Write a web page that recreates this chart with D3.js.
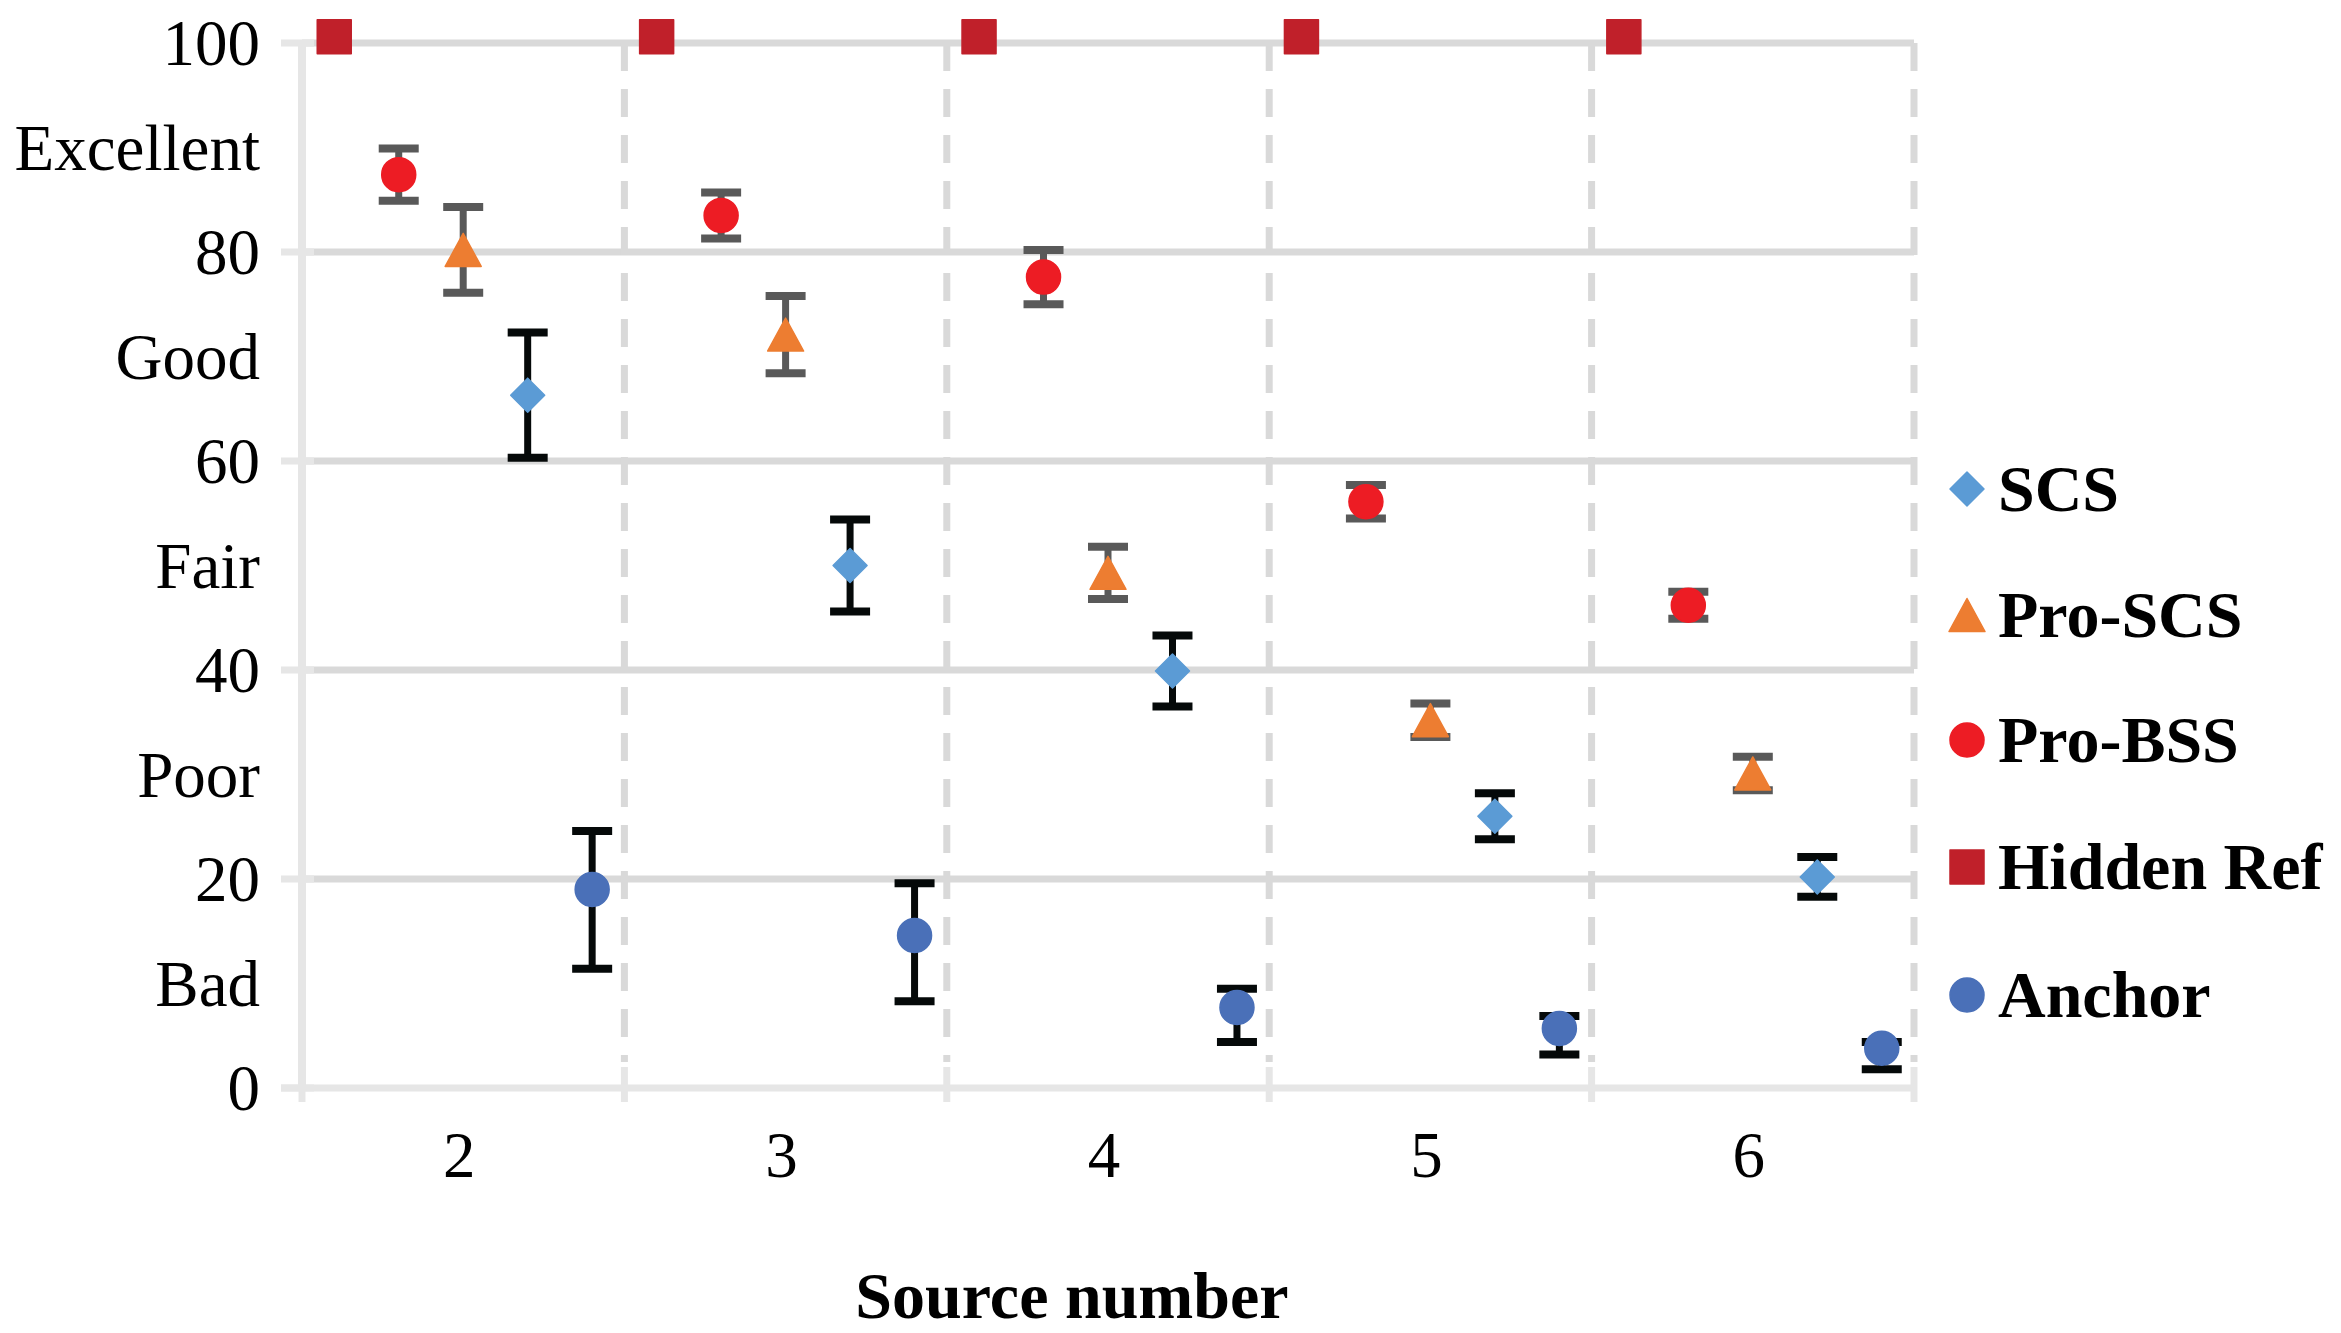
<!DOCTYPE html>
<html>
<head>
<meta charset="utf-8">
<script src="https://cdn.jsdelivr.net/npm/d3@7"></script>
<style>
  body { margin: 0; background: #fff; }
  svg { display: block; }
</style>
</head>
<body>
<svg id="chart" width="2341" height="1333"></svg>
<script>
// values
const sources = [2, 3, 4, 5, 6];
const boundaries = [1.5, 2.5, 3.5, 4.5, 5.5, 6.5];

const yTickValues = [0, 10, 20, 30, 40, 50, 60, 70, 80, 90, 100];
const yTickLabels = ['0', 'Bad', '20', 'Poor', '40', 'Fair', '60', 'Good', '80', 'Excellent', '100'];

const hiddenRef = [100.6, 100.6, 100.6, 100.6, 100.6];

const proBSS = [87.4, 83.5, 77.6, 56.1, 46.2];
const proBSSErr = [2.5, 2.2, 2.6, 1.6, 1.3];

const proSCS = [80.2, 72.1, 49.3, 35.2, 30.1];
const proSCSErr = [4.1, 3.7, 2.5, 1.6, 1.6];

const scs = [66.3, 50.0, 39.9, 26.0, 20.2];
const scsErr = [6.0, 4.4, 3.4, 2.2, 1.9];

const anchor = [19.0, 14.6, 7.7, 5.7, 3.8];
const anchorErrUp = [5.6, 5.0, 1.8, 1.2, 0.6];
const anchorErrDown = [7.6, 6.3, 3.3, 2.5, 2.0];

const series = [
  { name: 'SCS', shape: 'diamond', color: '#5b9bd5', offset: 0.2, values: scs, up: scsErr, down: scsErr, errColor: '#050909' },
  { name: 'Pro-SCS', shape: 'triangle', color: '#ed7d31', offset: 0, values: proSCS, up: proSCSErr, down: proSCSErr, errColor: '#595959' },
  { name: 'Pro-BSS', shape: 'circle', color: '#ed1c24', offset: -0.2, values: proBSS, up: proBSSErr, down: proBSSErr, errColor: '#595959' },
  { name: 'Hidden Ref', shape: 'square', color: '#c0202a', offset: -0.4, values: hiddenRef, up: null, down: null },
  { name: 'Anchor', shape: 'circle', color: '#4a70b8', offset: 0.4, values: anchor, up: anchorErrUp, down: anchorErrDown, errColor: '#050909' }
];

const svg = d3.select('#chart');
const x = d3.scaleLinear().domain([1.5, 6.5]).range([302, 1914]);
const y = d3.scaleLinear().domain([0, 100]).range([1088, 43]);

const serif = '"Liberation Serif", "Times New Roman", serif';

// horizontal gridlines
svg.append('g')
  .selectAll('line')
  .data([20, 40, 60, 80, 100])
  .enter()
  .append('line')
  .attr('x1', x(1.5))
  .attr('x2', x(6.5))
  .attr('y1', (d) => y(d))
  .attr('y2', (d) => y(d))
  .attr('stroke', '#d9d9d9')
  .attr('stroke-width', 7);

// dashed source separators
svg.append('g')
  .selectAll('line')
  .data(boundaries.slice(1))
  .enter()
  .append('line')
  .attr('x1', (d) => x(d))
  .attr('x2', (d) => x(d))
  .attr('y1', y(100))
  .attr('y2', y(0) - 26)
  .attr('stroke', '#d9d9d9')
  .attr('stroke-width', 7)
  .attr('stroke-dasharray', '28,18');

// y ticks
svg.append('g')
  .selectAll('line')
  .data([0, 20, 40, 60, 80, 100])
  .enter()
  .append('line')
  .attr('x1', x(1.5) - 21)
  .attr('x2', x(1.5) + 12)
  .attr('y1', (d) => y(d))
  .attr('y2', (d) => y(d))
  .attr('stroke', '#e6e6e6')
  .attr('stroke-width', 7);

// x ticks
svg.append('g')
  .selectAll('line')
  .data(boundaries)
  .enter()
  .append('line')
  .attr('x1', (d) => x(d))
  .attr('x2', (d) => x(d))
  .attr('y1', y(0) - 21)
  .attr('y2', y(0) + 14)
  .attr('stroke', '#e6e6e6')
  .attr('stroke-width', 7);

// axis lines
svg.append('line')
  .attr('x1', x(1.5)).attr('x2', x(1.5))
  .attr('y1', y(100)).attr('y2', y(0))
  .attr('stroke', '#e6e6e6').attr('stroke-width', 8);
svg.append('line')
  .attr('x1', x(1.5) - 21).attr('x2', x(6.5))
  .attr('y1', y(0)).attr('y2', y(0))
  .attr('stroke', '#e6e6e6').attr('stroke-width', 7);

// y labels
svg.append('g')
  .selectAll('text')
  .data(yTickValues)
  .enter()
  .append('text')
  .attr('x', 260)
  .attr('y', (d) => y(d) + 22)
  .attr('text-anchor', 'end')
  .attr('font-family', serif)
  .attr('font-size', 65)
  .attr('fill', '#000')
  .text((d, i) => yTickLabels[i]);

// x labels
svg.append('g')
  .selectAll('text')
  .data(sources)
  .enter()
  .append('text')
  .attr('x', (d) => x(d) - 4)
  .attr('y', 1177)
  .attr('text-anchor', 'middle')
  .attr('font-family', serif)
  .attr('font-size', 65)
  .attr('fill', '#000')
  .text((d) => d);

svg.append('text')
  .attr('x', 1072)
  .attr('y', 1318)
  .attr('text-anchor', 'middle')
  .attr('font-family', serif)
  .attr('font-size', 66)
  .attr('font-weight', 'bold')
  .attr('fill', '#000')
  .text('Source number');

function shapePath(shape) {
  if (shape === 'diamond') return 'M0,-17L17,0L0,17L-17,0Z';
  if (shape === 'triangle') return 'M0,-16.5L18,16.5L-18,16.5Z';
  if (shape === 'square') return 'M-17,-17H17V17H-17Z';
  return d3.symbol(d3.symbolCircle, Math.PI * 17 * 17)();
}

// error bars
series.filter((s) => s.up).forEach((s) => {
  const g = svg.append('g');
  sources.forEach((src, i) => {
    const cx = x(src + s.offset);
    const top = y(s.values[i] + s.up[i]);
    const bot = y(s.values[i] - s.down[i]);
    g.append('line')
      .attr('x1', cx).attr('x2', cx)
      .attr('y1', top).attr('y2', bot)
      .attr('stroke', s.errColor).attr('stroke-width', 7);
    [top, bot].forEach((yy) => {
      g.append('line')
        .attr('x1', cx - 20).attr('x2', cx + 20)
        .attr('y1', yy).attr('y2', yy)
        .attr('stroke', s.errColor).attr('stroke-width', 8);
    });
  });
});

// markers
series.forEach((s) => {
  svg.append('g')
    .selectAll('path')
    .data(s.values)
    .enter()
    .append('path')
    .attr('transform', (d, i) => 'translate(' + x(sources[i] + s.offset) + ',' + y(d) + ')')
    .attr('d', shapePath(s.shape))
    .attr('fill', s.color)
    .attr('stroke', s.color)
    .attr('stroke-width', 1.5)
    .attr('stroke-linejoin', 'round');
});

// legend
const legendY = [489, 615, 740, 867, 995];
const legend = svg.append('g')
  .selectAll('g')
  .data(series)
  .enter()
  .append('g')
  .attr('transform', (d, i) => 'translate(1967,' + legendY[i] + ')');
legend.append('path')
  .attr('d', (d) => shapePath(d.shape))
  .attr('fill', (d) => d.color)
  .attr('stroke', (d) => d.color)
  .attr('stroke-width', 1.5)
  .attr('stroke-linejoin', 'round');
legend.append('text')
  .attr('x', 31)
  .attr('y', 22)
  .attr('font-family', serif)
  .attr('font-size', 66)
  .attr('font-weight', 'bold')
  .attr('fill', '#000')
  .text((d) => d.name);
</script>
</body>
</html>
